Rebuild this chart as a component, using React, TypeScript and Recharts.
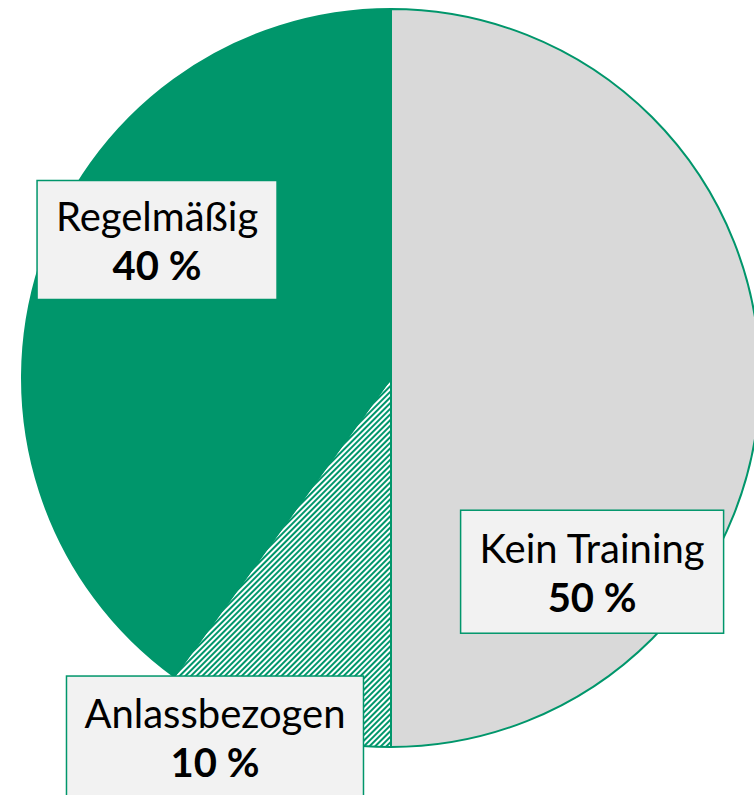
import { PieChart, Pie, Cell } from "recharts";

// Trainingshäufigkeit
const categories = ["Kein Training", "Anlassbezogen", "Regelmäßig"];
const shares = [50, 10, 40];

const GREEN = "#00966B";
const GREY = "#D9D9D9";
const BOX_FILL = "#F2F2F2";

const chartData = categories.map((name, i) => ({ name, value: shares[i] }));

const sliceFills = [GREY, "url(#hatch)", GREEN];

// label box placement, relative to the pie centre in units of the radius
const labelOffsets = [
  { dx: 0.545, dy: 0.525, w: 263, h: 123 },
  { dx: -0.477, dy: 0.973, w: 297, h: 122 },
  { dx: -0.634, dy: -0.374, w: 240, h: 119 },
];

const FONT = "Lato, 'Open Sans', sans-serif";

function renderLabel(props: any) {
  const { cx, cy, outerRadius, index, name, value } = props;
  const o = labelOffsets[index];
  const x = cx + o.dx * outerRadius;
  const y = cy + o.dy * outerRadius;
  return (
    <g>
      <rect
        x={x - o.w / 2}
        y={y - o.h / 2}
        width={o.w}
        height={o.h}
        fill={BOX_FILL}
        stroke={GREEN}
        strokeWidth={1.5}
      />
      <text
        x={x}
        y={y - 9}
        textAnchor="middle"
        fontFamily={FONT}
        fontSize={40}
        fill="#000"
      >
        {name}
      </text>
      <text
        x={x}
        y={y + 40}
        textAnchor="middle"
        fontFamily={FONT}
        fontSize={40}
        fontWeight="bold"
        fill="#000"
      >
        {`${value} %`}
      </text>
    </g>
  );
}

export default function App() {
  return (
    <div style={{ width: 754, height: 795, overflow: "hidden", background: "#fff" }}>
      <style>{"body{margin:0;overflow:hidden}"}</style>
      <PieChart
        width={754}
        height={795}
        margin={{ top: 0, right: 0, bottom: 0, left: 0 }}
      >
        <defs>
          <pattern
            id="hatch"
            width={4}
            height={4}
            patternUnits="userSpaceOnUse"
            patternTransform="rotate(45)"
          >
            <rect width={4} height={4} fill="#fff" />
            <rect width={2} height={4} fill={GREEN} />
          </pattern>
        </defs>
        <Pie
          data={chartData}
          dataKey="value"
          nameKey="name"
          cx={391}
          cy={378}
          outerRadius={369}
          startAngle={90}
          endAngle={-270}
          stroke={GREEN}
          strokeWidth={2}
          label={renderLabel}
          labelLine={false}
          isAnimationActive={false}
        >
          {chartData.map((d, i) => (
            <Cell key={d.name} fill={sliceFills[i]} />
          ))}
        </Pie>
      </PieChart>
    </div>
  );
}
